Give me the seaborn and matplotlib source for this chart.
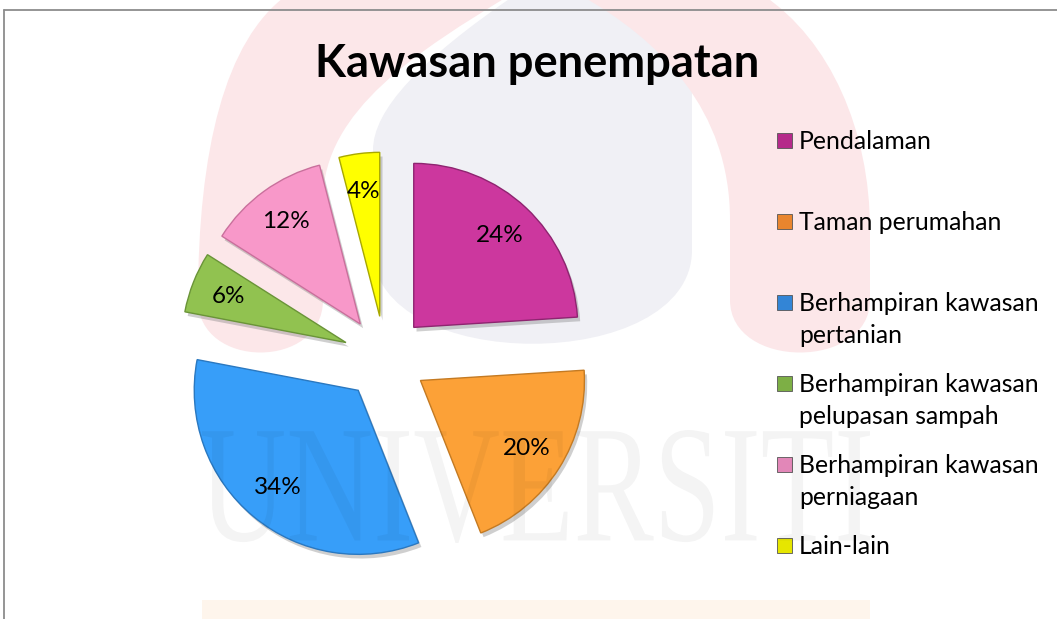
import matplotlib
matplotlib.use("Agg")  # non-interactive backend
import matplotlib.pyplot as plt
import matplotlib.patches as mpatches
import matplotlib.patheffects as pe
from matplotlib.path import Path
from matplotlib.textpath import TextPath
from matplotlib.font_manager import FontProperties
from matplotlib.transforms import Affine2D
import seaborn as sns

# ── Data ────────────────────────────────────────────────────────────────────
title = "Kawasan penempatan"
categories = [
    "Pendalaman",
    "Taman perumahan",
    "Berhampiran kawasan\npertanian",
    "Berhampiran kawasan\npelupasan sampah",
    "Berhampiran kawasan\nperniagaan",
    "Lain-lain",
]
shares = [24, 20, 34, 6, 12, 4]

# ── Styling ─────────────────────────────────────────────────────────────────
slice_colors = ["#CC379E", "#FCA137", "#379EF9", "#91C250", "#F898C9", "#FFFF00"]
edge_colors = ["#8E2470", "#C47A22", "#2A78C0", "#6A9438", "#C9709C", "#A8A800"]
legend_colors = ["#B52A8A", "#E9852E", "#3385D6", "#7DAF45", "#E287B8", "#E6E600"]

W, H = 1057, 619

sns.set_theme(style="white")
plt.rcParams["font.family"] = ["Lato", "DejaVu Sans"]

fig = plt.figure(figsize=(W / 100, H / 100), dpi=100)
fig.patch.set_facecolor("white")

# background axes in pixel units (y down) for watermark, title and legend
bg = fig.add_axes([0, 0, 1, 1], zorder=0)
bg.set_xlim(0, W)
bg.set_ylim(H, 0)
bg.axis("off")


def _shape(points, codes, color):
    bg.add_patch(mpatches.PathPatch(Path(points, codes), facecolor=color,
                                    edgecolor="none"))


M, C, L, X = Path.MOVETO, Path.CURVE4, Path.LINETO, Path.CLOSEPOLY

# faded logo watermark (grey U + red arches)
_shape([(373, 250), (373, 150), (373, 110), (420, 60), (515, -5), (692, -5),
        (692, 250), (692, 375), (373, 375), (373, 250), (373, 250)],
       [M, L, C, C, C, L, L, C, C, C, X], "#F0F0F5")
_shape([(198, 300), (198, 150), (225, 40), (287, -5), (510, -5),
        (420, 50), (323, 110), (323, 200), (323, 300),
        (323, 370), (198, 370), (198, 300), (198, 300)],
       [M, C, C, C, L, C, C, C, L, C, C, C, X], "#FCE7E9")
_shape([(730, 300), (730, 220), (730, 110), (660, 40), (580, -5), (763, -5),
        (830, 40), (870, 130), (870, 230), (870, 300),
        (870, 370), (730, 370), (730, 300), (730, 300)],
       [M, L, C, C, C, L, C, C, C, L, C, C, C, X], "#FCE7E9")
bg.add_patch(mpatches.Rectangle((202, 600), 668, 30, facecolor="#FEF5EC",
                                edgecolor="none"))

# chart border (only top and left visible)
bg.plot([4, W + 5], [10, 10], color="#8C8C8C", linewidth=1.3)
bg.plot([4, 4], [10, H + 5], color="#8C8C8C", linewidth=1.3)

# title
bg.text(537, 77, title, ha="center", va="baseline", fontsize=32.6,
        fontweight="bold", color="black")

# legend drawn by hand: entries on an even 81 px grid, 32 px line pitch
for i, (label, col) in enumerate(zip(categories, legend_colors)):
    base = 149 + i * 81
    bg.add_patch(mpatches.Rectangle((777, base - 16), 15, 15, facecolor=col,
                                    edgecolor="#555555", linewidth=0.6))
    for j, line in enumerate(label.split("\n")):
        bg.text(799, base + j * 32, line, ha="left", va="baseline",
                fontsize=17.8, color="black")

# ── Pie ─────────────────────────────────────────────────────────────────────
# centre at (385, 358) px, radius 164 px, slices pulled out by ~42 px
ax = fig.add_axes([139 / W, 15 / H, 492 / W, 492 / H], zorder=1)
ax.patch.set_alpha(0)
wedges, _, autotexts = ax.pie(
    shares,
    explode=[0.256] * len(shares),
    colors=slice_colors,
    startangle=90,
    counterclock=False,
    autopct="%1.0f%%",
    pctdistance=0.77,
    wedgeprops=dict(linewidth=1.0),
    textprops=dict(fontsize=17.5, color="black"),
)
for w, ec in zip(wedges, edge_colors):
    w.set_edgecolor(ec)
    w.set_path_effects([
        pe.SimplePatchShadow(offset=(2, -3), shadow_rgbFace="#777777", alpha=0.35),
        pe.Normal(),
    ])
ax.set_xlim(-1.5, 1.5)
ax.set_ylim(-1.5, 1.5)
ax.set_aspect("equal")

# "UNIVERSITI" watermark laid over the chart
ov = fig.add_axes([0, 0, 1, 1], zorder=2)
ov.set_xlim(0, W)
ov.set_ylim(H, 0)
ov.axis("off")
ov.patch.set_alpha(0)
tp = TextPath((0, 0), "UNIVERSITI", prop=FontProperties(family="Liberation Serif"))
ext = tp.get_extents()
tr = (Affine2D().translate(-ext.x0, -ext.y0)
      .scale(668 / ext.width, -113 / ext.height).translate(202, 543))
ov.add_patch(mpatches.PathPatch(tr.transform_path(tp), facecolor="black",
                                edgecolor="none", alpha=0.045))

fig.savefig("out.png", dpi=100)
plt.close(fig)
